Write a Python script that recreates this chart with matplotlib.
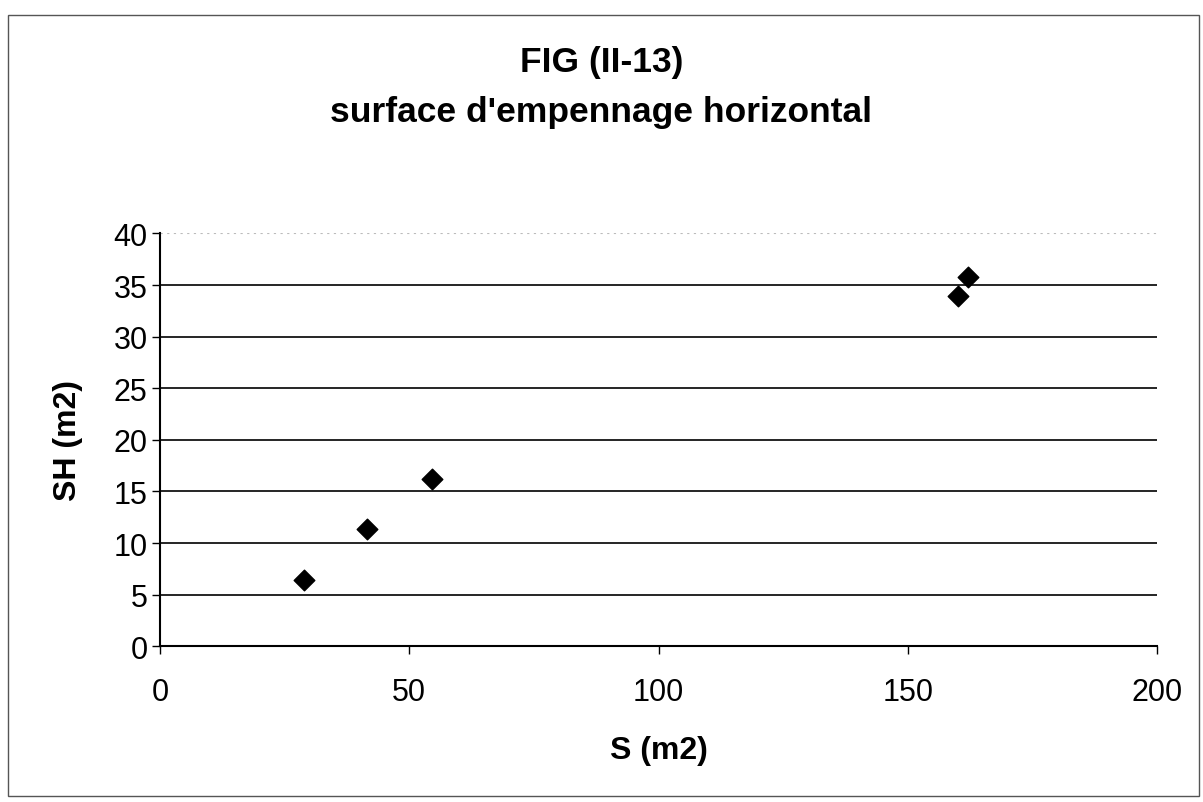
import matplotlib
matplotlib.use("Agg")
import matplotlib.pyplot as plt
from matplotlib.patches import Rectangle

# data
s_m2 = [28.8, 41.6, 54.6, 160.0, 162.0]
sh_m2 = [6.4, 11.4, 16.2, 33.9, 35.8]
x_ticks = [0, 50, 100, 150, 200]
y_ticks = [0, 5, 10, 15, 20, 25, 30, 35, 40]

plt.rcParams['font.family'] = ['Liberation Sans', 'DejaVu Sans']

fig = plt.figure(figsize=(12.03, 8.03), dpi=100)
ax = fig.add_axes([0.133, 0.194, 0.829, 0.514])

# chart frame
fig.patches.append(Rectangle((0.007, 0.008), 0.99, 0.972, transform=fig.transFigure,
                             fill=False, edgecolor='#555555', linewidth=1.0))

ax.scatter(s_m2, sh_m2, marker='D', s=110, color='black', zorder=3)

ax.set_xlim(0, 200)
ax.set_ylim(0, 40)
ax.set_xticks(x_ticks)
ax.set_yticks(y_ticks)
ax.tick_params(axis='both', labelsize=22, length=6, width=1, color='black')
ax.tick_params(axis='x', pad=16)
ax.tick_params(axis='y', pad=3)

for y in y_ticks[1:-1]:
	ax.axhline(y, color='black', linewidth=1.2, zorder=1)
ax.axhline(40, color='#bbbbbb', linewidth=0.8, linestyle=(0, (2, 4)), zorder=1)

for side in ['top', 'right']:
	ax.spines[side].set_visible(False)
for side in ['left', 'bottom']:
	ax.spines[side].set_linewidth(1.5)
	ax.spines[side].set_color('black')

ax.set_xlabel('S (m2)', fontsize=23, fontweight='bold', labelpad=20)
ax.set_ylabel('SH (m2)', fontsize=23, fontweight='bold', labelpad=22)

fig.text(0.5, 0.922, 'FIG (II-13)', ha='center', va='center', fontsize=25.5, fontweight='bold')
fig.text(0.5, 0.86, "surface d'empennage horizontal", ha='center', va='center',
	fontsize=25.5, fontweight='bold')

fig.savefig('out.png', dpi=100, facecolor='white')
